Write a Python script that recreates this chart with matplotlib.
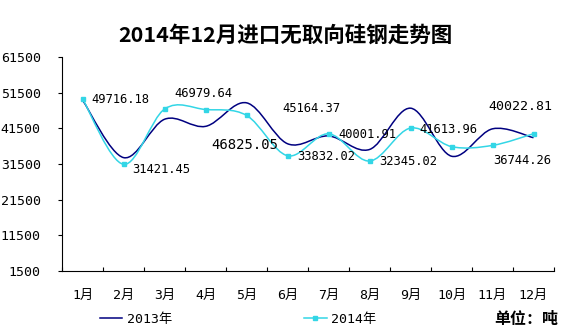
import numpy as np
import matplotlib
matplotlib.use("Agg")
import matplotlib.pyplot as plt
from matplotlib.path import Path
from matplotlib.patches import PathPatch
from matplotlib.lines import Line2D

plt.rcParams['font.family'] = ['DejaVu Sans Mono', 'Noto Sans CJK SC']

# === 数据 ===
months = ['1月', '2月', '3月', '4月', '5月', '6月', '7月', '8月', '9月', '10月', '11月', '12月']
y2013 = [49400, 33300, 44100, 42100, 48700, 37200, 39400, 35600, 47200, 33700, 41400, 38900]
y2014 = [49716.18, 31421.45, 46979.64, 46825.05, 45164.37, 33832.02,
         40001.91, 32345.02, 41613.96, 36400, 36744.26, 40022.81]
yticks = [1500, 11500, 21500, 31500, 41500, 51500, 61500]

NAVY = '#000080'
CYAN = '#33D6E6'

# 数据标签位置 (月份序号, dx像素, dy像素, 对齐, 字号) —— 10月无标签
label_pos = [(0, 9, 0, 'left', 8.7), (1, 9, -5, 'left', 8.7), (2, 10, 15, 'left', 8.7),
             (3, 6, -35, 'left', 10), (4, 36, 7, 'left', 8.7), (5, 10, -1, 'left', 8.7),
             (6, 10, -1, 'left', 8.7), (7, 10, 0, 'left', 8.7), (8, 9, -1, 'left', 8.7),
             (10, 1, -15, 'left', 8.7), (11, 19, 27, 'right', 9.5)]


def smooth_path(xs, ys):
    # Excel 式平滑线：三次贝塞尔 (Catmull-Rom 控制点)
    pts = np.column_stack([xs, ys]).astype(float)
    n = len(pts)
    verts = [pts[0]]
    codes = [Path.MOVETO]
    for i in range(n - 1):
        p0 = pts[i - 1] if i > 0 else pts[i]
        p1, p2 = pts[i], pts[i + 1]
        p3 = pts[i + 2] if i + 2 < n else pts[i + 1]
        verts += [p1 + (p2 - p0) / 6, p2 - (p3 - p1) / 6, p2]
        codes += [Path.CURVE4] * 3
    return Path(verts, codes)


fig = plt.figure(figsize=(5.65, 3.32), dpi=100)
ax = fig.add_axes([62.2 / 565, 1 - 270.8 / 332, (554 - 62.2) / 565, (270.8 - 57.3) / 332])

x = np.arange(len(months))
ax.add_patch(PathPatch(smooth_path(x, y2013), fill=False, edgecolor=NAVY, lw=1.1))
ax.add_patch(PathPatch(smooth_path(x, y2014), fill=False, edgecolor=CYAN, lw=1.1))
ax.plot(x, y2014, linestyle='none', marker='s', ms=3.5, color=CYAN)

for i, dx, dy, ha, fs in label_pos:
    ax.annotate(f'{y2014[i]:.2f}', (x[i], y2014[i]), xytext=(dx * 0.72, dy * 0.72),
                textcoords='offset points', ha=ha, va='center', fontsize=fs)

ax.set_xlim(-0.5, len(months) - 0.5)
ax.set_ylim(1500, 61500)
ax.set_yticks(yticks)
ax.set_yticklabels([str(v) for v in yticks])
ax.tick_params(axis='y', direction='out', length=3, pad=12.5, labelsize=9.5)

ax.set_xticks(np.arange(-0.5, len(months), 1))
ax.set_xticklabels([])
ax.tick_params(axis='x', which='major', direction='in', length=3)
ax.set_xticks(x, minor=True)
ax.set_xticklabels(months, minor=True)
ax.tick_params(axis='x', which='minor', length=0, pad=13, labelsize=9.5)

for s in ['top', 'right']:
    ax.spines[s].set_visible(False)

fig.text(0.505, 1 - 35 / 332, '2014年12月进口无取向硅钢走势图', ha='center', va='center',
         fontsize=15.5, fontweight='bold', family=['Noto Sans CJK SC'])

handles = [Line2D([], [], color=NAVY, lw=1.1),
           Line2D([], [], color=CYAN, lw=1.1, marker='s', ms=3)]
fig.legend(handles, ['2013年', '2014年'], loc='center left',
           bbox_to_anchor=(100 / 565, 1 - 319 / 332), ncol=2, frameon=False,
           fontsize=9.5, handlelength=1.7, handletextpad=0.35, columnspacing=10.0,
           borderpad=0, borderaxespad=0)

fig.text(558 / 565, 1 - 319 / 332, '单位：吨', ha='right', va='center',
         fontsize=11.5, fontweight='bold', family=['Noto Sans CJK SC'])

fig.savefig('out.png', dpi=100)
